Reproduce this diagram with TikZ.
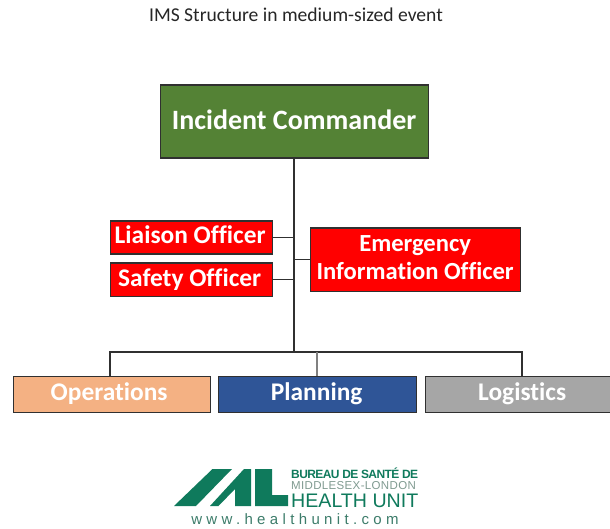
\documentclass[tikz,border=0pt]{standalone}
\usepackage{fontspec}
\setmainfont[Ligatures=NoCommon]{Carlito}
\newfontfamily\logofont{Liberation Sans}
\definecolor{cmdgreen}{HTML}{548235}
\definecolor{opsorange}{HTML}{F4B183}
\definecolor{planblue}{HTML}{2F5597}
\definecolor{loggray}{HTML}{A6A6A6}
\definecolor{logogreen}{HTML}{0F7A5C}
\definecolor{logogray}{HTML}{7F9A90}
\definecolor{linedark}{HTML}{303030}
\tikzset{
  box/.style={draw=linedark,line width=1.3pt,text=white,font=\bfseries,align=center,inner sep=0pt,anchor=north west},
  conn/.style={draw=linedark,line width=1.3pt},
  trunk/.style={draw=linedark,line width=1.9pt},
  logoshape/.style={fill=logogreen},
  logotext/.style={anchor=west,inner sep=0pt},
}
\begin{document}
\begin{tikzpicture}[x=1pt,y=-1pt]
\useasboundingbox (0,0) rectangle (610,529);
\node[font=\fontsize{19.6}{22}\selectfont,text=black!85] (title) at (296,15) {IMS Structure in medium-sized event};
\node[box,fill=cmdgreen,minimum width=268pt,minimum height=73pt,font=\fontsize{28}{32}\selectfont\bfseries] (ic) at (159.5,84.5) {\raisebox{4pt}{Incident Commander}};
\node[box,fill=red,minimum width=162pt,minimum height=33pt,font=\fontsize{25.4}{28}\selectfont\bfseries] (liaison) at (109.5,220.5) {\raisebox{6pt}{Liaison Officer\kern2pt}};
\node[box,fill=red,minimum width=162pt,minimum height=33pt,font=\fontsize{25.4}{28}\selectfont\bfseries] (safety) at (109.5,262.5) {\raisebox{1pt}{Safety Officer\kern3pt}};
\node[box,fill=red,minimum width=210pt,minimum height=63pt,font=\fontsize{24.6}{27.5}\selectfont\bfseries] (eio) at (309.5,227.5) {Emergency\\Information Officer\rule[-4pt]{0pt}{4pt}};
\node[box,fill=opsorange,minimum width=197pt,minimum height=36pt,font=\fontsize{25.4}{28}\selectfont\bfseries] (ops) at (12.5,375.5) {\raisebox{5pt}{Operations\kern5pt}};
\node[box,fill=planblue,minimum width=198pt,minimum height=36pt,font=\fontsize{25.4}{28}\selectfont\bfseries] (plan) at (217.5,375.5) {\raisebox{3pt}{Planning\kern1pt}};
\node[box,fill=loggray,minimum width=198pt,minimum height=36pt,font=\fontsize{25.4}{28}\selectfont\bfseries] (logi) at (424.5,375.5) {\raisebox{5pt}{Logistics\kern4pt}};
\coordinate (hub) at (294,352);
\coordinate (opsdrop) at (110,375.5);
\coordinate (logdrop) at (522,375.5);
\draw[trunk] (ic.south -| hub) -- (hub);
\draw[conn] (liaison.east) -- (liaison.east -| hub);
\draw[conn] (safety.east) -- (safety.east -| hub);
\draw[conn] (eio.west) -- (eio.west -| hub);
\draw[conn] (opsdrop) |- (hub);
\draw[conn] (logdrop) |- (hub);
\draw[conn,draw=gray,line width=1.6pt] (plan.north) -- (plan.north |- hub);
% logo
\fill[logoshape] (174,506) -- (212.5,469) -- (232,469) -- (196,506) -- cycle;
\fill[logoshape] (210,506) -- (244,469) -- (251,469) -- (251,506) -- (235,506) -- (235,489) -- (218.5,506) -- cycle;
\fill[logoshape] (255,469) -- (272,469) -- (272,495) -- (288,495) -- (288,506) -- (255,506) -- cycle;
\node[logotext,font=\logofont\bfseries\fontsize{12}{13}\selectfont,text=logogreen] (l1) at (291,473.5) {\addfontfeature{LetterSpace=-5}BUREAU DE SANTÉ DE};
\node[logotext,font=\logofont\fontsize{11.5}{12}\selectfont,text=logogray] (l2) at (291,485.5) {\addfontfeature{LetterSpace=3}MIDDLESEX-LONDON};
\node[logotext,font=\logofont\fontsize{19.6}{20}\selectfont,text=logogreen] (l3) at (291,501) {HEALTH UNIT};
\node[font=\logofont\fontsize{15}{16}\selectfont,text=logogreen!60!gray,inner sep=0pt] (l4) at (295,519.5) {\addfontfeature{LetterSpace=29}www.healthunit.com};
\end{tikzpicture}
\end{document}
